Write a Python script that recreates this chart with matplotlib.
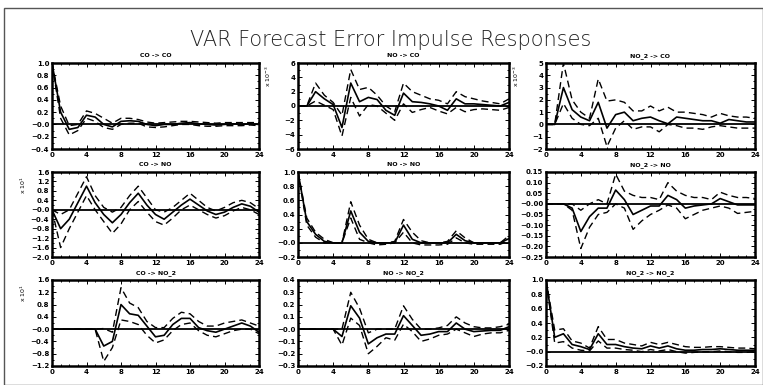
import numpy as np
import matplotlib
matplotlib.use("Agg")
import matplotlib.pyplot as plt
from matplotlib.ticker import MultipleLocator, AutoMinorLocator
from matplotlib.patches import Rectangle

steps = np.arange(25)

# impulse responses (mid, lower band, upper band) per panel
co_co = [1.0, 0.2, -0.08, -0.05, 0.15, 0.12, 0.0, -0.04, 0.05, 0.06, 0.05, 0.0, -0.02,
         0.0, 0.0, 0.02, 0.03, 0.01, 0.0, -0.01, 0.0, 0.01, 0.0, 0.01, 0.0]
co_co_lo = [1.0, 0.1, -0.17, -0.1, 0.1, 0.05, -0.05, -0.08, 0.0, 0.02, 0.02, -0.04, -0.05,
            -0.04, -0.02, 0.0, 0.0, -0.02, -0.03, -0.03, -0.02, -0.02, -0.02, -0.01, -0.02]
co_co_hi = [1.0, 0.3, -0.02, 0.0, 0.22, 0.18, 0.1, 0.02, 0.1, 0.1, 0.08, 0.04, 0.02,
            0.03, 0.04, 0.05, 0.05, 0.04, 0.03, 0.02, 0.03, 0.03, 0.03, 0.03, 0.03]

no_co = [0, 0, 2.0, 1.0, 0.2, -3.0, 3.2, 0.6, 1.2, 0.9, -0.6, -1.3, 1.8,
         0.6, 0.5, 0.3, 0.0, -0.6, 1.0, 0.3, 0.3, 0.2, 0.1, 0.0, 0.5]
no_co_lo = [0, 0, 0.7, 0.1, -0.5, -4.2, 1.2, -1.4, 0.2, 0.0, -1.0, -2.0, 0.3,
            -0.9, -0.5, -0.2, -0.7, -1.1, -0.2, -0.8, -0.5, -0.4, -0.5, -0.6, -0.2]
no_co_hi = [0, 0, 3.2, 1.5, 0.5, -1.3, 5.1, 2.3, 2.6, 1.5, 0.0, -0.8, 3.2,
            2.0, 1.5, 1.0, 0.8, 0.3, 2.0, 1.3, 1.0, 0.7, 0.5, 0.3, 1.0]

no2_co = [0, 0, 3.0, 1.2, 0.6, 0.3, 1.8, -0.3, 0.8, 1.0, 0.3, 0.5, 0.6,
          0.3, 0.05, 0.6, 0.5, 0.4, 0.3, 0.3, 0.1, 0.4, 0.3, 0.2, 0.2]
no2_co_lo = [0, 0, 1.7, 0.5, 0.0, -0.1, 0.5, -1.8, -0.3, 0.3, -0.4, -0.2, -0.2,
             -0.6, 0.0, -0.1, -0.3, -0.3, -0.4, -0.2, -0.1, -0.2, -0.3, -0.3, -0.3]
no2_co_hi = [0, 0, 5.0, 2.0, 1.0, 0.5, 3.7, 1.9, 2.0, 1.8, 1.1, 1.1, 1.5,
             1.1, 1.4, 1.0, 1.0, 0.9, 0.8, 0.6, 0.9, 0.7, 0.6, 0.6, 0.5]

co_no = [0, -0.8, -0.4, 0.3, 1.0, 0.3, -0.2, -0.55, -0.2, 0.3, 0.7, 0.2, -0.2,
         -0.4, -0.1, 0.2, 0.45, 0.2, -0.05, -0.2, -0.1, 0.1, 0.25, 0.15, -0.1]
co_no_lo = [0, -1.6, -0.8, -0.1, 0.6, 0.0, -0.5, -1.0, -0.6, 0.0, 0.35, -0.1, -0.5,
            -0.65, -0.35, 0.0, 0.2, 0.0, -0.2, -0.35, -0.25, -0.05, 0.1, 0.0, -0.2]
co_no_hi = [0, -0.2, 0.0, 0.7, 1.4, 0.6, 0.1, -0.1, 0.1, 0.6, 1.0, 0.5, 0.0,
            -0.1, 0.1, 0.4, 0.7, 0.4, 0.1, -0.05, 0.1, 0.3, 0.4, 0.3, 0.05]

no_no = [1.0, 0.3, 0.12, 0.02, 0.0, 0.0, 0.45, 0.15, 0.02, 0.0, 0.0, 0.0, 0.25,
         0.05, 0.0, 0.0, 0.0, 0.0, 0.12, 0.03, 0.0, 0.0, 0.0, 0.0, 0.06]
no_no_lo = [1.0, 0.25, 0.08, 0.0, 0.0, 0.0, 0.35, 0.05, 0.0, -0.03, -0.02, 0.0, 0.15,
            0.0, -0.03, -0.03, -0.03, -0.02, 0.07, 0.0, -0.02, -0.02, -0.02, -0.02, 0.03]
no_no_hi = [1.0, 0.35, 0.15, 0.05, 0.0, 0.0, 0.58, 0.25, 0.05, 0.0, 0.0, 0.02, 0.33,
            0.15, 0.03, 0.0, 0.0, 0.02, 0.17, 0.07, 0.0, 0.0, 0.0, 0.0, 0.1]

no2_no = [0, 0, 0, -0.02, -0.13, -0.06, -0.02, -0.02, 0.065, 0.02, -0.05, -0.03, -0.01,
          -0.01, 0.04, 0.02, -0.02, -0.01, -0.005, 0.0, 0.025, 0.01, -0.005, -0.005, -0.005]
no2_no_lo = [0, 0, 0, -0.03, -0.21, -0.11, -0.05, -0.04, 0.0, -0.02, -0.12, -0.08, -0.05,
             -0.03, -0.005, -0.02, -0.07, -0.05, -0.03, -0.02, -0.01, -0.02, -0.045, -0.04, -0.035]
no2_no_hi = [0, 0, 0, 0.0, -0.03, 0.0, 0.02, 0.0, 0.14, 0.06, 0.04, 0.03, 0.03,
             0.02, 0.1, 0.06, 0.04, 0.03, 0.03, 0.02, 0.055, 0.04, 0.03, 0.03, 0.025]

co_no2 = [0, 0, 0, 0, 0, 0, -0.55, -0.4, 0.8, 0.5, 0.45, 0.1, -0.25,
          -0.2, 0.15, 0.35, 0.35, 0.05, -0.05, -0.1, 0.0, 0.1, 0.2, 0.1, -0.1]
co_no2_lo = [0, 0, 0, 0, 0, 0, -1.05, -0.6, 0.3, 0.25, 0.15, -0.2, -0.45,
             -0.35, -0.05, 0.15, 0.2, -0.05, -0.2, -0.25, -0.15, -0.05, 0.0, 0.0, -0.15]
co_no2_hi = [0, 0, 0, 0, 0, 0, 0.02, -0.1, 1.35, 0.85, 0.7, 0.25, 0.05,
             0.05, 0.35, 0.55, 0.5, 0.25, 0.1, 0.1, 0.2, 0.25, 0.3, 0.2, 0.1]

no_no2 = [0, 0, 0, 0, 0, -0.06, 0.19, 0.09, -0.12, -0.07, -0.04, -0.04, 0.11,
          0.03, -0.05, -0.04, -0.02, -0.02, 0.05, 0.0, -0.02, -0.015, -0.01, -0.01, 0.02]
no_no2_lo = [0, 0, 0, 0, 0, -0.13, 0.09, 0.03, -0.2, -0.14, -0.07, -0.09, 0.04,
             -0.02, -0.1, -0.08, -0.05, -0.04, 0.0, -0.03, -0.06, -0.04, -0.03, -0.03, -0.01]
no_no2_hi = [0, 0, 0, 0, 0, 0.0, 0.3, 0.17, -0.03, 0.0, 0.0, 0.0, 0.19,
             0.08, 0.0, 0.0, 0.01, 0.03, 0.1, 0.05, 0.02, 0.01, 0.01, 0.02, 0.04]

no2_no2 = [1.0, 0.2, 0.25, 0.1, 0.07, 0.03, 0.25, 0.1, 0.1, 0.07, 0.05, 0.04, 0.08,
           0.05, 0.08, 0.04, 0.02, 0.02, 0.03, 0.03, 0.04, 0.03, 0.02, 0.02, 0.02]
no2_no2_lo = [1.0, 0.12, 0.14, 0.05, 0.02, 0.01, 0.15, 0.05, 0.05, 0.03, 0.02, 0.0, 0.03,
              0.01, 0.03, 0.0, -0.02, -0.01, 0.0, 0.0, 0.01, 0.0, -0.01, -0.01, 0.0]
no2_no2_hi = [1.0, 0.3, 0.32, 0.15, 0.12, 0.05, 0.35, 0.17, 0.17, 0.12, 0.1, 0.08, 0.13,
              0.1, 0.13, 0.1, 0.07, 0.06, 0.06, 0.07, 0.07, 0.06, 0.05, 0.05, 0.04]

titles = ["CO -> CO", "NO -> CO", "NO_2 -> CO",
          "CO -> NO", "NO -> NO", "NO_2 -> NO",
          "CO -> NO_2", "NO -> NO_2", "NO_2 -> NO_2"]
mids = [co_co, no_co, no2_co, co_no, no_no, no2_no, co_no2, no_no2, no2_no2]
lows = [co_co_lo, no_co_lo, no2_co_lo, co_no_lo, no_no_lo, no2_no_lo, co_no2_lo, no_no2_lo, no2_no2_lo]
highs = [co_co_hi, no_co_hi, no2_co_hi, co_no_hi, no_no_hi, no2_no_hi, co_no2_hi, no_no2_hi, no2_no2_hi]

yticks = [
    [-0.4, -0.2, 0.0, 0.2, 0.4, 0.6, 0.8, 1.0],
    [-6, -4, -2, 0, 2, 4, 6],
    [-2, -1, 0, 1, 2, 3, 4, 5],
    [-2.0, -1.6, -1.2, -0.8, -0.4, 0.0, 0.4, 0.8, 1.2, 1.6],
    [-0.2, 0.0, 0.2, 0.4, 0.6, 0.8, 1.0],
    [-0.25, -0.20, -0.15, -0.10, -0.05, 0.00, 0.05, 0.10, 0.15],
    [-1.2, -0.8, -0.4, 0.0, 0.4, 0.8, 1.2, 1.6],
    [-0.3, -0.2, -0.1, 0.0, 0.1, 0.2, 0.3, 0.4],
    [-0.2, 0.0, 0.2, 0.4, 0.6, 0.8, 1.0],
]
yfmt = ["%.1f", "%d", "%d", "%.1f", "%.1f", "%.2f", "%.1f", "%.1f", "%.1f"]
scales = [None, r"x 10$^{-3}$", r"x 10$^{-3}$", r"x 10$^{1}$", None, None, r"x 10$^{1}$", None, None]
xticks = [0, 4, 8, 12, 16, 20, 24]

W, H = 763, 385
fig = plt.figure(figsize=(W / 100, H / 100), dpi=100)
fig.patches.append(Rectangle((4 / W, 0), 1 - 4 / W, 1 - 8 / H, transform=fig.transFigure,
                             fill=False, ec="#555555", lw=1.0))
fig.text(0.512, 1 - 40 / H, "VAR Forecast Error Impulse Responses", ha="center", va="center",
         fontsize=15, fontweight="light", color="#222222")

cols = [(52, 259), (298, 509), (546, 755)]
rows = [(63, 149), (172, 257), (280, 366)]

for i in range(9):
    r, c = divmod(i, 3)
    x0, x1 = cols[c]
    y0, y1 = rows[r]
    ax = fig.add_axes([x0 / W, 1 - y1 / H, (x1 - x0) / W, (y1 - y0) / H])
    ax.axhline(0, color="black", lw=1.3)
    ax.plot(steps, lows[i], color="black", lw=1.0, ls=(0, (5, 3)))
    ax.plot(steps, highs[i], color="black", lw=1.0, ls=(0, (5, 3)))
    ax.plot(steps, mids[i], color="black", lw=1.2)
    ax.set_xlim(0, 24)
    ax.set_ylim(yticks[i][0], yticks[i][-1])
    ax.set_xticks(xticks)
    ax.set_yticks(yticks[i])
    labs = []
    for v in yticks[i]:
        s = yfmt[i] % v
        if abs(v) < 1e-12 and yfmt[i] != "%d":
            s = "\u2212" + s
        labs.append(s.replace("-", "\u2212"))
    ax.set_yticklabels(labs)
    ax.xaxis.set_minor_locator(MultipleLocator(1))
    ax.yaxis.set_minor_locator(AutoMinorLocator(2))
    ax.tick_params(which="both", direction="in", top=True, right=True,
                   labelsize=5, width=0.7, pad=2)
    ax.tick_params(which="major", length=3)
    ax.tick_params(which="minor", length=1.5)
    for lab in ax.get_xticklabels() + ax.get_yticklabels():
        lab.set_fontweight("bold")
    for sp in ax.spines.values():
        sp.set_linewidth(1.8)
    ax.set_title(titles[i], fontsize=4.5, fontweight="bold", pad=4)
    if scales[i]:
        ax.text(-0.14, 0.85, scales[i], transform=ax.transAxes, rotation=90,
                fontsize=4.5, ha="center", va="center")

fig.savefig("out.png", dpi=100)
